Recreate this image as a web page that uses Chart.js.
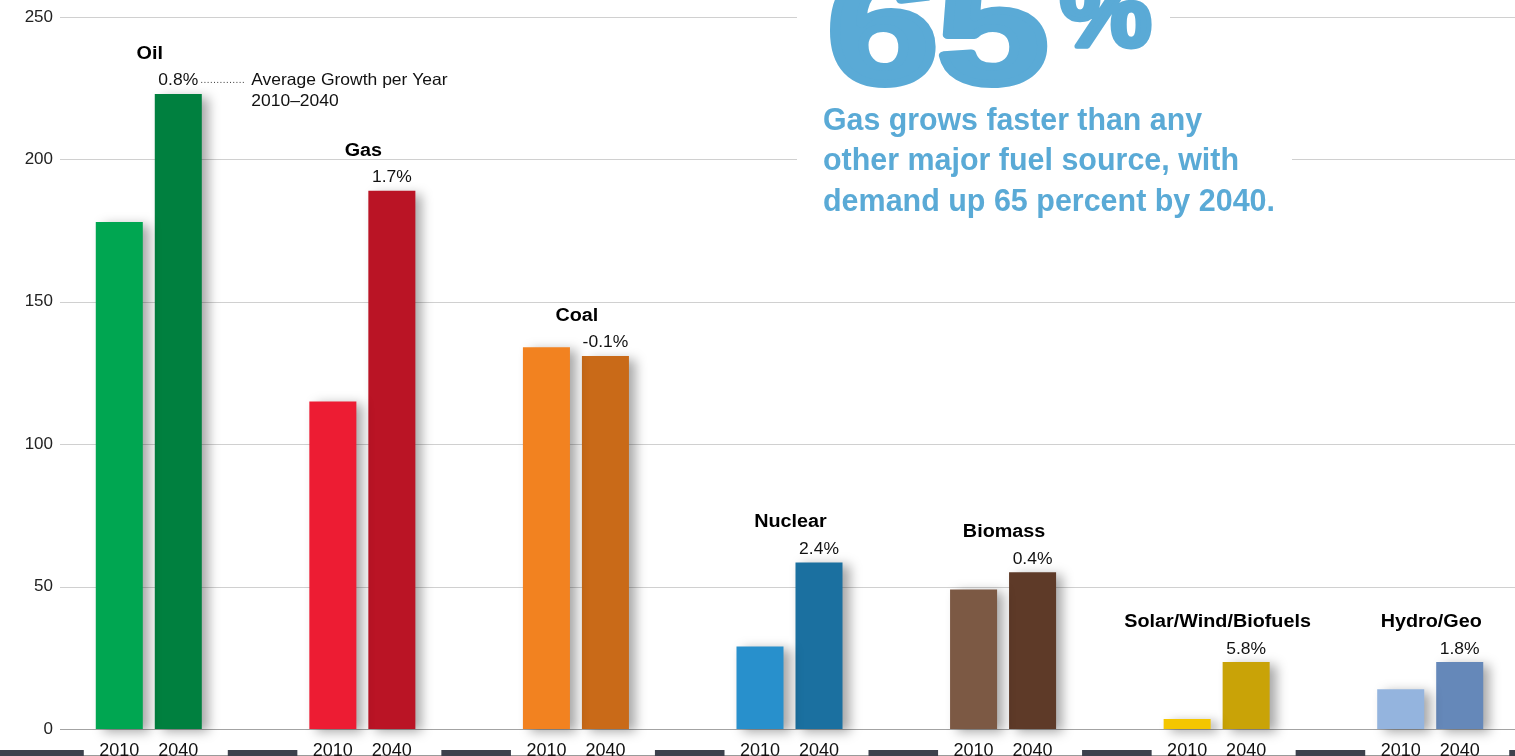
<!DOCTYPE html>
<html>
<head>
<meta charset="utf-8">
<title>Energy demand by fuel, 2010 and 2040</title>
<script src="https://cdn.jsdelivr.net/npm/chart.js@4.4.0/dist/chart.umd.min.js"></script>
<style>
  html, body { margin: 0; padding: 0; background: #fff; overflow: hidden; }
  #wrap { position: absolute; left: 0; top: 0; width: 1540px; height: 756px; }
</style>
</head>
<body>
<div id="wrap"><canvas id="fuelChart" width="1540" height="756"></canvas></div>
<script>
const categories = ['Oil', 'Gas', 'Coal', 'Nuclear', 'Biomass', 'Solar/Wind/Biofuels', 'Hydro/Geo'];
const years = ['2010', '2040'];
const demand2010 = [178, 115, 134, 29, 49, 3.5, 14];
const demand2040 = [223, 189, 131, 58.5, 55, 23.5, 23.5];
const growthRates = ['0.8%', '1.7%', '-0.1%', '2.4%', '0.4%', '5.8%', '1.8%'];
const yTicks = [0, 50, 100, 150, 200, 250];

const colors2010 = ['#00a651', '#ed1c33', '#f28220', '#2890cc', '#7c5944', '#f4c600', '#94b4de'];
const colors2040 = ['#00803f', '#ba1425', '#c96a18', '#1b70a0', '#5e3a28', '#c9a307', '#6588b9'];

const FONT = '"Liberation Sans", Arial, Helvetica, sans-serif';
const BLUE = '#5aaad6';

// draw text stretched/squeezed horizontally by sx around its anchor
function wideText(ctx, text, x, y, sx) {
    ctx.save();
    ctx.translate(x, y);
    ctx.scale(sx, 1);
    ctx.fillText(text, 0, 0);
    ctx.restore();
}

// squeeze text so it fills a given width
function fitText(ctx, text, x, y, width) {
    const w = ctx.measureText(text).width;
    wideText(ctx, text, x, y, width / w);
}

// fit the ink of a bold string into a box, outlined to look heavier
function fitBox(ctx, text, left, top, right, bottom, stroke) {
    ctx.save();
    ctx.textAlign = 'left';
    ctx.textBaseline = 'alphabetic';
    ctx.font = 'bold 100px ' + FONT;
    let m = ctx.measureText(text);
    const h100 = m.actualBoundingBoxAscent + m.actualBoundingBoxDescent;
    const size = 100 * (bottom - top - stroke) / h100;
    ctx.font = 'bold ' + size.toFixed(1) + 'px ' + FONT;
    m = ctx.measureText(text);
    const w = m.actualBoundingBoxLeft + m.actualBoundingBoxRight;
    const sx = (right - left - stroke) / w;
    ctx.translate(left + stroke / 2 + m.actualBoundingBoxLeft * sx,
                  bottom - stroke / 2 - m.actualBoundingBoxDescent);
    ctx.scale(sx, 1);
    ctx.fillText(text, 0, 0);
    ctx.lineWidth = stroke;
    ctx.lineJoin = 'round';
    ctx.strokeStyle = ctx.fillStyle;
    ctx.strokeText(text, 0, 0);
    ctx.restore();
}

const backdrop = {
    id: 'backdrop',
    beforeDatasetsDraw(chart) {
        const ctx = chart.ctx, y = chart.scales.y, area = chart.chartArea;
        ctx.save();
        yTicks.forEach(t => {
            const py = Math.round(y.getPixelForValue(t)) + 0.5;
            ctx.strokeStyle = t === 0 ? '#a3a3a3' : '#d0d0d0';
            ctx.lineWidth = 1.2;
            ctx.beginPath();
            ctx.moveTo(60, py);
            ctx.lineTo(area.right, py);
            ctx.stroke();
        });
        // white box behind the callout
        ctx.fillStyle = '#fff';
        ctx.fillRect(797, 0, 373, 110);
        ctx.fillRect(797, 110, 495, 110);
        ctx.restore();
    },
    beforeDatasetDraw(chart) {
        const ctx = chart.ctx;
        ctx.save();
        ctx.shadowColor = 'rgba(0,0,0,0.35)';
        ctx.shadowBlur = 11;
        ctx.shadowOffsetX = 7;
        ctx.shadowOffsetY = 3;
    },
    afterDatasetDraw(chart) {
        chart.ctx.restore();
    }
};

const labels = {
    id: 'labels',
    afterDatasetsDraw(chart) {
        const ctx = chart.ctx, x = chart.scales.x, y = chart.scales.y;
        const bars10 = chart.getDatasetMeta(0).data;
        const bars40 = chart.getDatasetMeta(1).data;
        ctx.save();

        // y axis numbers
        ctx.fillStyle = '#222';
        ctx.font = '17px ' + FONT;
        ctx.textAlign = 'right';
        ctx.textBaseline = 'middle';
        yTicks.forEach(t => ctx.fillText(String(t), 53, y.getPixelForValue(t)));

        // fuel names + growth rates above the 2040 bar
        ctx.textAlign = 'center';
        categories.forEach((c, i) => {
            const top = bars40[i].y;
            ctx.font = 'bold 17.5px ' + FONT;
            ctx.fillStyle = '#000';
            wideText(ctx, c, x.getPixelForValue(i) + 1, top - 40, 1.13);
            ctx.font = '16.5px ' + FONT;
            ctx.fillStyle = '#111';
            wideText(ctx, growthRates[i], bars40[i].x, top - 13, 1.06);
        });

        // "Average Growth per Year" note on the oil rate
        ctx.font = '16.5px ' + FONT;
        const rw = ctx.measureText(growthRates[0]).width * 1.06;
        const lx = bars40[0].x + rw / 2 + 3;
        const ly = bars40[0].y - 13 + 1;
        ctx.strokeStyle = '#333';
        ctx.lineWidth = 1;
        ctx.setLineDash([1, 2.2]);
        ctx.beginPath();
        ctx.moveTo(lx, ly + 0.5);
        ctx.lineTo(lx + 44, ly + 0.5);
        ctx.stroke();
        ctx.setLineDash([]);
        ctx.textAlign = 'left';
        ctx.fillStyle = '#111';
        wideText(ctx, 'Average Growth per Year', lx + 50, ly - 1, 1.06);
        wideText(ctx, '2010\u20132040', lx + 50, ly + 20, 1.06);

        // bottom strip
        ctx.strokeStyle = '#9a9a9a';
        ctx.beginPath();
        ctx.moveTo(0, 755.5);
        ctx.lineTo(chart.width, 755.5);
        ctx.stroke();
        ctx.fillStyle = '#3d414c';
        for (let i = -1; i < categories.length; i++) {
            const left = i < 0 ? 0 : x.getPixelForValue(i) + 79;
            const right = i === categories.length - 1 ? chart.width : x.getPixelForValue(i + 1) - 65;
            ctx.fillRect(left, 750, right - left, 6);
        }

        // year labels under every bar
        ctx.font = '18px ' + FONT;
        ctx.fillStyle = '#111';
        ctx.textAlign = 'center';
        ctx.textBaseline = 'alphabetic';
        categories.forEach((c, i) => {
            ctx.fillText(years[0], bars10[i].x, 756);
            ctx.fillText(years[1], bars40[i].x, 756);
        });

        // callout
        ctx.fillStyle = BLUE;
        fitBox(ctx, '65', 830, -32, 1047, 88, 8);
        fitBox(ctx, '%', 1059, -28, 1152, 49, 5);
        ctx.textAlign = 'left';
        ctx.font = 'bold 32px ' + FONT;
        fitText(ctx, 'Gas grows faster than any', 823, 130, 379);
        fitText(ctx, 'other major fuel source, with', 823, 170, 416);
        fitText(ctx, 'demand up 65 percent by 2040.', 823, 211, 452);

        ctx.restore();
    }
};

new Chart(document.getElementById('fuelChart'), {
    type: 'bar',
    data: {
        labels: categories,
        datasets: [
            { label: years[0], data: demand2010, backgroundColor: colors2010,
              categoryPercentage: 0.5525, barPercentage: 0.797, clip: false },
            { label: years[1], data: demand2040, backgroundColor: colors2040,
              categoryPercentage: 0.5525, barPercentage: 0.797, clip: false }
        ]
    },
    options: {
        responsive: false,
        animation: false,
        devicePixelRatio: 1,
        layout: { padding: { left: 42, right: 3, top: 17, bottom: 27 } },
        plugins: {
            legend: { display: false },
            tooltip: { enabled: false }
        },
        scales: {
            x: { display: false },
            y: { display: false, min: 0, max: 250 }
        }
    },
    plugins: [backdrop, labels]
});
</script>
</body>
</html>
